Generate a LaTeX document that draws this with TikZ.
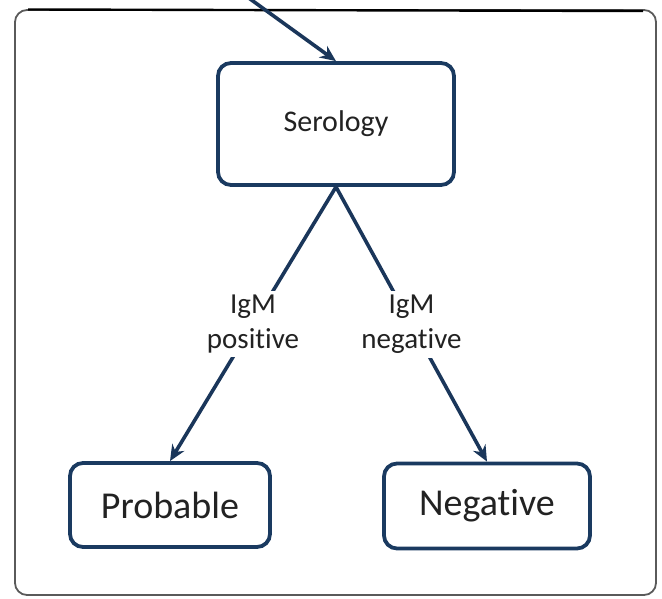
\documentclass[tikz,border=0pt]{standalone}
\usepackage{fontspec}
\setmainfont[Ligatures=NoCommon,RawFeature={-liga;-clig;-dlig}]{Carlito}
\usetikzlibrary{arrows.meta}
\definecolor{boxblue}{HTML}{1A3A60}
\definecolor{arrowblue}{HTML}{1A365A}
\definecolor{txt}{HTML}{222222}
\definecolor{frame}{HTML}{5A5A5A}
\tikzset{
  stepbox/.style={draw=boxblue, line width=3.8pt, rounded corners=13pt, fill=white, text=txt, align=center},
  conn/.style={draw=arrowblue, line width=3.6pt, -{Stealth[length=16pt,width=14pt]}},
  lab/.style={fill=white, text=txt, align=center, font=\fontsize{29}{35}\selectfont, inner sep=4pt}
}
\begin{document}
\begin{tikzpicture}[x=1pt,y=-1pt]
\useasboundingbox (0,0) rectangle (662,599);
\draw[frame, line width=1.8pt, rounded corners=12pt] (15,10) rectangle (656,595);
\draw[black, line width=2.4pt] (28,9.5) -- (643,11);
\node[stepbox, minimum width=236pt, minimum height=122pt, font=\fontsize{30}{36}\selectfont] (ser) at (336,124) {Serology};
\node[stepbox, minimum width=200pt, minimum height=84pt, font=\fontsize{38}{44}\selectfont] (prob) at (170,505) {Probable};
\node[stepbox, minimum width=206pt, minimum height=85pt, font=\fontsize{38}{44}\selectfont] (neg) at (487,506) {Negative};
\coordinate (top) at (246,-4);
\draw[conn] (top) -- (ser.north);
\draw[conn] (ser.south) -- node[lab] (lp) {IgM\\positive} (prob.north);
\draw[conn] (ser.south) -- node[lab] (ln) {IgM\\negative} (neg.north);
\end{tikzpicture}
\end{document}
